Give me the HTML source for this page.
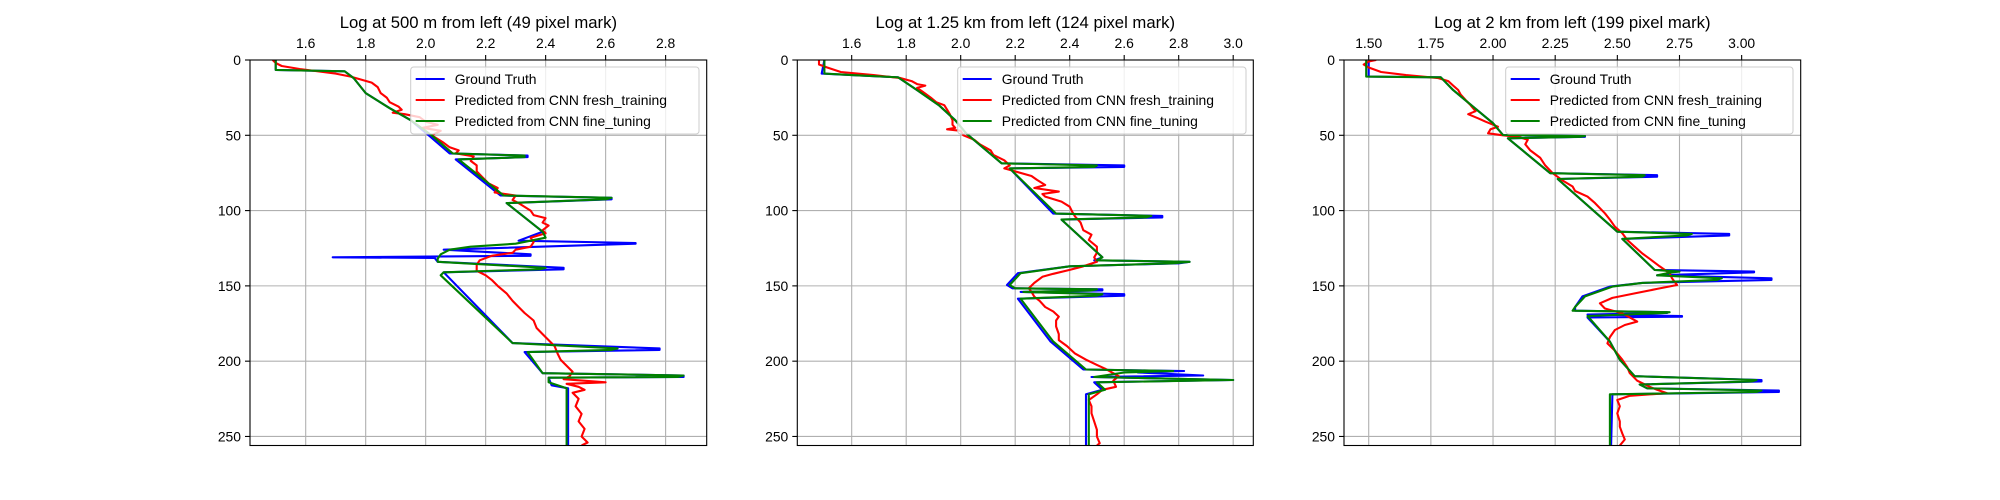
<!DOCTYPE html>
<html><head><meta charset="utf-8"><style>
html,body{margin:0;padding:0;background:#fff;}
svg{display:block;font-family:"Liberation Sans","DejaVu Sans",sans-serif;}
</style></head><body>
<svg id="fig" width="2000" height="500" viewBox="0 0 2000 500" xmlns="http://www.w3.org/2000/svg"></svg>
<script>
// ---- data (depth / value) ----
const p1BlueD=[0,6.6,7.5,12,22,32,40,50,62,63.5,64.5,66,90,91.5,92.5,95,114,120,121.5,122,126,129,130,131,131.5,134,138,139,141,188,191.5,192.5,194,208,209.5,210.5,211,216,218,256];
const p1BlueV=[1.50,1.50,1.73,1.76,1.80,1.88,1.95,2.01,2.08,2.34,2.34,2.10,2.25,2.62,2.62,2.27,2.39,2.31,2.70,2.70,2.06,2.35,2.35,1.69,2.03,2.04,2.46,2.46,2.06,2.29,2.78,2.78,2.33,2.39,2.86,2.86,2.41,2.42,2.475,2.475];
const p1GreenD=[0,6.6,7.5,12,22,32,40,50,62,63.5,64.5,66,90,91.5,92.5,95,114,118,122,124,126,129,132,134,138,139,141,143,188,191.5,192.5,194,208,209.5,210.5,211,214,218,256];
const p1GreenV=[1.50,1.50,1.73,1.76,1.80,1.88,1.95,2.02,2.09,2.33,2.33,2.11,2.26,2.62,2.60,2.27,2.39,2.40,2.30,2.15,2.08,2.05,2.04,2.04,2.40,2.38,2.06,2.05,2.29,2.64,2.62,2.34,2.39,2.86,2.84,2.41,2.41,2.47,2.47];
const p1RedD=[0,2,4,6,9,11,15,18,22,25,28,31,33,35,36,38,41,43,45,47,50,55,58,60,62,64,67,70,74,78,82,85,88,90,93,95,100,103,105,108,110,113,115,118,121,124,126,128,130,133,136,140,143,146,150,155,160,164,168,173,178,182,186,190,195,199,203,207,210,212,214,215,217,219,221,225,230,235,240,245,250,254,256];
const p1RedV=[1.49,1.50,1.52,1.58,1.70,1.75,1.82,1.84,1.85,1.87,1.88,1.91,1.92,1.89,1.93,1.98,2.00,2.04,1.99,2.05,2.02,2.06,2.08,2.11,2.10,2.16,2.15,2.17,2.17,2.19,2.21,2.24,2.23,2.30,2.29,2.31,2.35,2.36,2.40,2.39,2.41,2.39,2.40,2.35,2.36,2.35,2.30,2.29,2.22,2.18,2.17,2.17,2.20,2.22,2.24,2.27,2.29,2.31,2.33,2.36,2.37,2.39,2.41,2.43,2.44,2.45,2.47,2.49,2.48,2.46,2.60,2.47,2.51,2.53,2.49,2.51,2.50,2.52,2.51,2.53,2.52,2.54,2.52];

const p2BlueD=[0,9,10,11.5,20,30,40,48.7,68.6,70,71,72,102,103.5,104.5,106,131,133,134,135,137,141.6,149.4,151.6,152.3,153,154,155.5,156.5,158.5,187,205.5,206.5,207.5,209.5,210.5,212.5,214,219,222,256];
const p2BlueV=[1.50,1.49,1.60,1.77,1.84,1.92,1.98,2.02,2.15,2.60,2.60,2.18,2.34,2.74,2.74,2.37,2.52,2.49,2.84,2.80,2.40,2.21,2.17,2.19,2.52,2.52,2.22,2.60,2.60,2.21,2.33,2.45,2.82,2.65,2.89,2.48,3.00,2.49,2.52,2.46,2.46];
const p2GreenD=[0,9,10,11.5,20,30,40,48.7,68.6,70,71,72,102,103.5,104.5,106,131,133,134,135,137,141.6,149.4,151.6,152.3,153,154,155.5,156.5,158.5,187,205.5,206.5,207.5,210.5,212.5,214,219,222,256];
const p2GreenV=[1.50,1.50,1.60,1.77,1.84,1.92,1.98,2.02,2.15,2.50,2.49,2.18,2.35,2.70,2.68,2.37,2.52,2.50,2.84,2.78,2.40,2.22,2.18,2.20,2.50,2.48,2.23,2.52,2.50,2.22,2.34,2.46,2.78,2.60,2.49,3.00,2.50,2.53,2.47,2.47];
const p2RedD=[0,3,5,8,10,12,14,16,17,18.5,21,25,28,30,33,36,40,43,45,46,47,50,53,56,60,63,66.6,70,72,74,77,79.6,83,85,87.4,89,90.7,94,97.4,101,104,108,113,116,119.5,124,128,131,134,137,139.4,142,144,148,151.6,154,157.2,160,164,167,170.4,173,177,182,186,190,195,199,202.5,205,207,210,213,217,219,222,225.8,230,234.6,240,245.6,250,254.5,256];
const p2RedV=[1.48,1.48,1.51,1.56,1.68,1.78,1.82,1.84,1.87,1.84,1.86,1.89,1.91,1.94,1.95,1.96,1.97,1.97,1.98,1.95,2.00,2.01,2.05,2.07,2.11,2.12,2.16,2.18,2.16,2.20,2.26,2.28,2.31,2.27,2.36,2.30,2.31,2.37,2.40,2.41,2.42,2.44,2.45,2.48,2.47,2.50,2.50,2.49,2.50,2.45,2.40,2.34,2.30,2.27,2.25,2.26,2.27,2.29,2.31,2.34,2.36,2.35,2.35,2.36,2.36,2.39,2.42,2.46,2.50,2.53,2.55,2.58,2.56,2.57,2.52,2.50,2.47,2.48,2.48,2.49,2.50,2.50,2.51,2.50];

const p3BlueD=[0,11,11.5,20,31,42,49.8,50.5,51,52,75.2,76.5,77.5,79,114,115.5,116.5,118.8,139.4,140.5,141,143,145,146,148,150.5,157,164,166.5,167.5,168,169,170,170.5,171,187,199,210,212.5,213.5,215.5,218,219.5,220.5,222,256];
const p3BlueV=[1.50,1.50,1.79,1.84,1.92,2.00,2.04,2.37,2.37,2.06,2.23,2.66,2.66,2.26,2.50,2.95,2.95,2.52,2.65,3.05,3.05,2.66,3.12,3.12,2.60,2.47,2.36,2.33,2.33,2.70,2.70,2.38,2.76,2.76,2.38,2.47,2.51,2.57,3.08,3.08,2.59,2.62,3.15,3.15,2.48,2.475];
const p3GreenD=[0,11,11.5,20,31,42,49.8,50.5,51,52,75.2,76.5,77.5,79,114,115.5,116.5,118.8,139.4,140.5,141,143,145,146,148,150.5,157,164,166.5,167.5,168,170,187,199,210,212.5,213.5,215.5,218,219.5,220.5,222,256];
const p3GreenV=[1.49,1.49,1.79,1.84,1.92,2.00,2.04,2.37,2.35,2.06,2.23,2.61,2.60,2.26,2.50,2.80,2.78,2.52,2.65,2.75,2.72,2.66,2.92,2.90,2.60,2.48,2.37,2.33,2.32,2.71,2.69,2.38,2.47,2.51,2.57,3.06,3.04,2.59,2.62,3.08,3.06,2.47,2.47];
const p3RedD=[0,1,3,5,8,10,12,14,17,19.9,23,26.6,30,34,36,38.7,41,44.3,46,48.7,50,51,53,56,60,65,70,75.2,80,84,87,90.7,95,101.8,106,110.7,115,119.5,124,128.4,132,137,141.6,145,149.4,152,155,158,161.6,165,168.3,171,173.7,176,179.3,184,188.2,193,199,204,208,213,217,219,221.3,223,225.8,230,234.6,240,243.5,248,252,256];
const p3RedV=[1.53,1.50,1.48,1.50,1.55,1.65,1.78,1.82,1.84,1.86,1.87,1.89,1.91,1.93,1.90,1.94,1.97,2.02,1.99,1.98,2.04,2.10,2.14,2.13,2.15,2.19,2.21,2.24,2.28,2.32,2.33,2.38,2.41,2.45,2.47,2.49,2.52,2.54,2.57,2.60,2.63,2.67,2.71,2.72,2.74,2.66,2.57,2.48,2.43,2.45,2.52,2.55,2.58,2.53,2.49,2.47,2.46,2.49,2.52,2.54,2.55,2.58,2.63,2.66,2.70,2.55,2.50,2.51,2.50,2.51,2.51,2.52,2.53,2.51];

const yTicks=[0,50,100,150,200,250];
const p1XTicks=[1.6,1.8,2.0,2.2,2.4,2.6,2.8];
const p2XTicks=[1.6,1.8,2.0,2.2,2.4,2.6,2.8,3.0];
const p3XTicks=[1.50,1.75,2.00,2.25,2.50,2.75,3.00];
const legendLabels=["Ground Truth","Predicted from CNN fresh_training","Predicted from CNN fine_tuning"];

const NS="http://www.w3.org/2000/svg";
const svg=document.getElementById('fig');
function mk(tag,attrs,parent){const e=document.createElementNS(NS,tag);for(const k in attrs)e.setAttribute(k,attrs[k]);(parent||svg).appendChild(e);return e;}

const panels=[
 {left:250,right:706.7,xmin:1.4143,xmax:2.937,ticks:p1XTicks,dec:1,title:"Log at 500 m from left (49 pixel mark)",
  series:[[p1BlueD,p1BlueV],[p1RedD,p1RedV],[p1GreenD,p1GreenV]],leg:[410.7,699]},
 {left:797.3,right:1253.3,xmin:1.4004,xmax:3.0738,ticks:p2XTicks,dec:1,title:"Log at 1.25 km from left (124 pixel mark)",
  series:[[p2BlueD,p2BlueV],[p2RedD,p2RedV],[p2GreenD,p2GreenV]],leg:[957.7,1246]},
 {left:1344,right:1800.7,xmin:1.4006,xmax:3.2375,ticks:p3XTicks,dec:2,title:"Log at 2 km from left (199 pixel mark)",
  series:[[p3BlueD,p3BlueV],[p3RedD,p3RedV],[p3GreenD,p3GreenV]],leg:[1505.7,1793]}
];
const axTop=60,axBottom=445.5,dmax=256;
const colors=["#0000ff","#ff0000","#008000"];
const names=["ground-truth-line","fresh-training-line","fine-tuning-line"];

panels.forEach((p,pi)=>{
  const g=mk('g',{});
  
  
  const X=v=>p.left+(v-p.xmin)/(p.xmax-p.xmin)*(p.right-p.left);
  const Y=d=>axTop+d/dmax*(axBottom-axTop);
  const cx=(p.left+p.right)/2;
  const t=mk('text',{x:cx,y:28,'text-anchor':'middle','font-size':'16.7',fill:'#000'},g);
  t.textContent=p.title;
  
  
  p.ticks.forEach(v=>{
    const gl=mk('line',{x1:X(v),x2:X(v),y1:axTop,y2:axBottom,stroke:'#b0b0b0','stroke-width':1.1},g);
    
    
    mk('line',{x1:X(v),x2:X(v),y1:axTop,y2:axTop-5,stroke:'#000','stroke-width':1.1},g);
    const tl=mk('text',{x:X(v),y:axTop-12,'text-anchor':'middle','font-size':'13.9',fill:'#000'},g);
    tl.textContent=v.toFixed(p.dec);
    
    
  });
  yTicks.forEach(v=>{
    const gl=mk('line',{x1:p.left,x2:p.right,y1:Y(v),y2:Y(v),stroke:'#b0b0b0','stroke-width':1.1},g);
    
    
    mk('line',{x1:p.left-5,x2:p.left,y1:Y(v),y2:Y(v),stroke:'#000','stroke-width':1.1},g);
    const tl=mk('text',{x:p.left-9,y:Y(v)+5,'text-anchor':'end','font-size':'13.9',fill:'#000'},g);
    tl.textContent=String(v);
    
    
  });
  const cp=mk('clipPath',{id:'clip'+pi},g);
  mk('rect',{x:p.left,y:axTop,width:p.right-p.left,height:axBottom-axTop},cp);
  p.series.forEach((s,si)=>{
    const pts=s[0].map((d,i)=>X(s[1][i]).toFixed(1)+','+Y(d).toFixed(1)).join(' ');
    const pl=mk('polyline',{points:pts,fill:'none',stroke:colors[si],'stroke-width':2.1,'stroke-linejoin':'round','clip-path':'url(#clip'+pi+')'},g);
    
    
  });
  const fr=mk('rect',{x:p.left,y:axTop,width:p.right-p.left,height:axBottom-axTop,fill:'none',stroke:'#000','stroke-width':1.1},g);
  
  
  const lg=mk('g',{},g);
  
  
  mk('rect',{x:p.leg[0],y:67,width:p.leg[1]-p.leg[0],height:67,rx:3,fill:'rgba(255,255,255,0.8)',stroke:'#cccccc','stroke-width':1},lg);
  legendLabels.forEach((lab,i)=>{
    const yy=79+i*21;
    const ent=mk('g',{},lg);
    
    
    mk('line',{x1:p.leg[0]+5,x2:p.leg[0]+34,y1:yy,y2:yy,stroke:colors[i],'stroke-width':2.1},ent);
    const tx=mk('text',{x:p.leg[0]+44,y:yy+5,'font-size':'13.9',fill:'#000'},ent);
    tx.textContent=lab;
  });
});
</script>
</body></html>
